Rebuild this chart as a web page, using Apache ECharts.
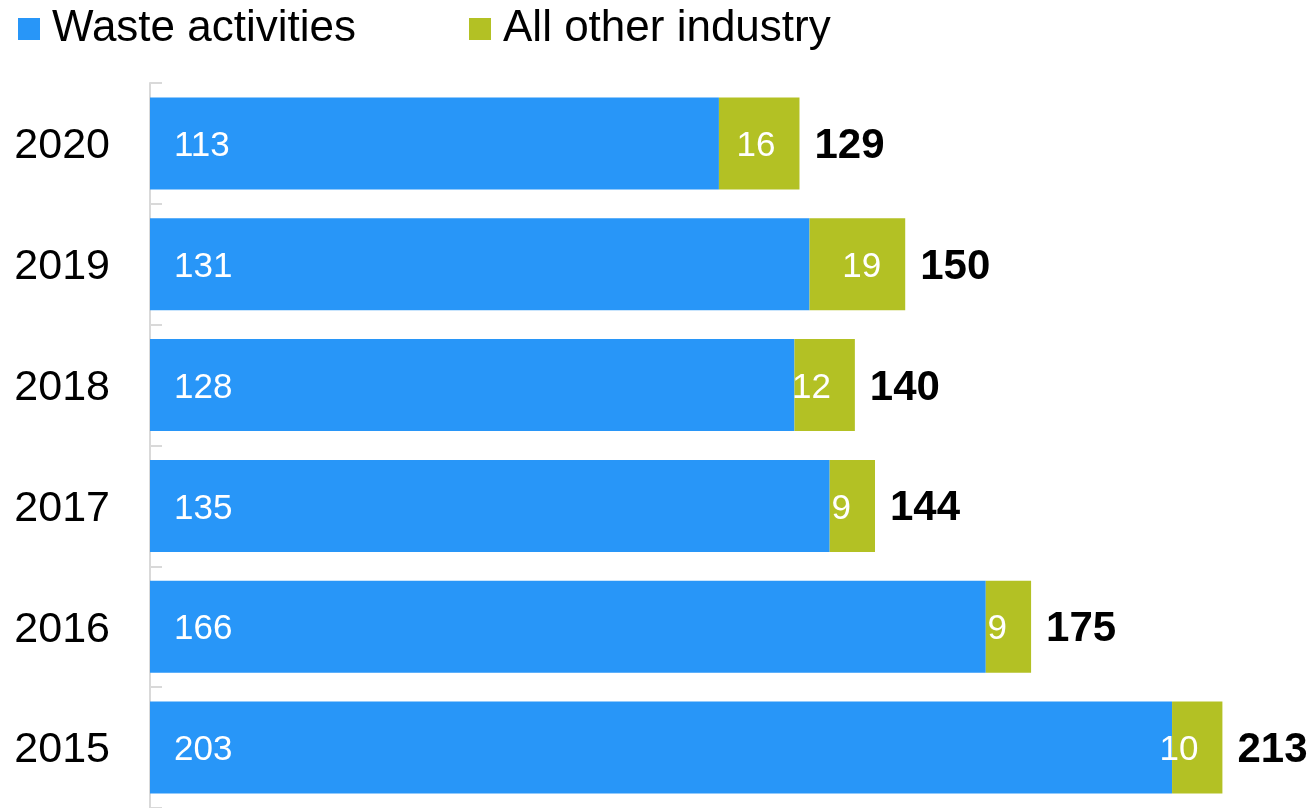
<!DOCTYPE html>
<html>
<head>
<meta charset="utf-8">
<script src="https://cdn.jsdelivr.net/npm/echarts@6/dist/echarts.min.js"></script>
<style>
html,body{margin:0;padding:0;background:#fff;}
#chart{width:1316px;height:808px;}
</style>
</head>
<body>
<div id="chart"></div>
<script>
var years = ['2015', '2016', '2017', '2018', '2019', '2020'];
var wasteActivities = [203, 166, 135, 128, 131, 113];
var allOtherIndustry = [10, 9, 9, 12, 19, 16];
var seriesNames = ['Waste activities', 'All other industry'];

var totals = years.map(function (y, i) { return wasteActivities[i] + allOtherIndustry[i]; });
var totalPoints = years.map(function (y, i) { return [totals[i], y]; });

var FONT = "'Liberation Sans', Arial, sans-serif";
var chart = echarts.init(document.getElementById('chart'), null, {renderer: 'canvas'});
chart.setOption({
  animation: false,
  textStyle: {fontFamily: FONT},
  legend: {
    data: seriesNames,
    left: 18,
    top: 7,
    padding: 0,
    itemWidth: 22,
    itemHeight: 22,
    itemGap: 113,
    icon: 'rect',
    textStyle: {fontSize: 44, color: '#000', fontFamily: FONT, padding: [0, 0, 0, 7], lineHeight: 44}
  },
  grid: {left: 150, top: 83, width: 1158, height: 729, containLabel: false},
  xAxis: {
    type: 'value',
    min: 0,
    max: 230,
    show: false
  },
  yAxis: {
    type: 'category',
    data: years,
    axisLine: {show: true, lineStyle: {color: '#d9d9d9', width: 2}},
    axisTick: {show: true, inside: true, length: 12, lineStyle: {color: '#d9d9d9', width: 2}},
    axisLabel: {
      margin: 40,
      formatter: function (v) { return '{y|' + v + '}'; },
      rich: {y: {fontSize: 43, color: '#000', fontFamily: FONT, lineHeight: 43, padding: [6, 0, 0, 0]}}
    },
    splitLine: {show: false}
  },
  series: [
    {
      name: seriesNames[0],
      type: 'bar',
      stack: 'total',
      data: wasteActivities,
      barWidth: 92,
      itemStyle: {color: '#2896F8'},
      label: {show: true, position: 'insideLeft', distance: 24, offset: [0, 3], color: '#fff', fontSize: 35, fontFamily: FONT}
    },
    {
      name: seriesNames[1],
      type: 'bar',
      stack: 'total',
      data: allOtherIndustry,
      barWidth: 92,
      itemStyle: {color: '#B3C124'},
      label: {show: true, position: 'insideRight', distance: 24, offset: [0, 3], color: '#fff', fontSize: 35, fontFamily: FONT}
    },
    {
      name: 'Total',
      type: 'scatter',
      data: totalPoints,
      symbolSize: 0,
      silent: true,
      itemStyle: {opacity: 1, color: '#000'},
      label: {
        show: true,
        position: 'right',
        distance: 15,
        offset: [0, 3],
        color: '#000',
        opacity: 1,
        fontSize: 42,
        fontWeight: 'bold',
        fontFamily: FONT,
        formatter: function (p) { return p.value[0]; }
      }
    }
  ]
});
</script>
</body>
</html>
